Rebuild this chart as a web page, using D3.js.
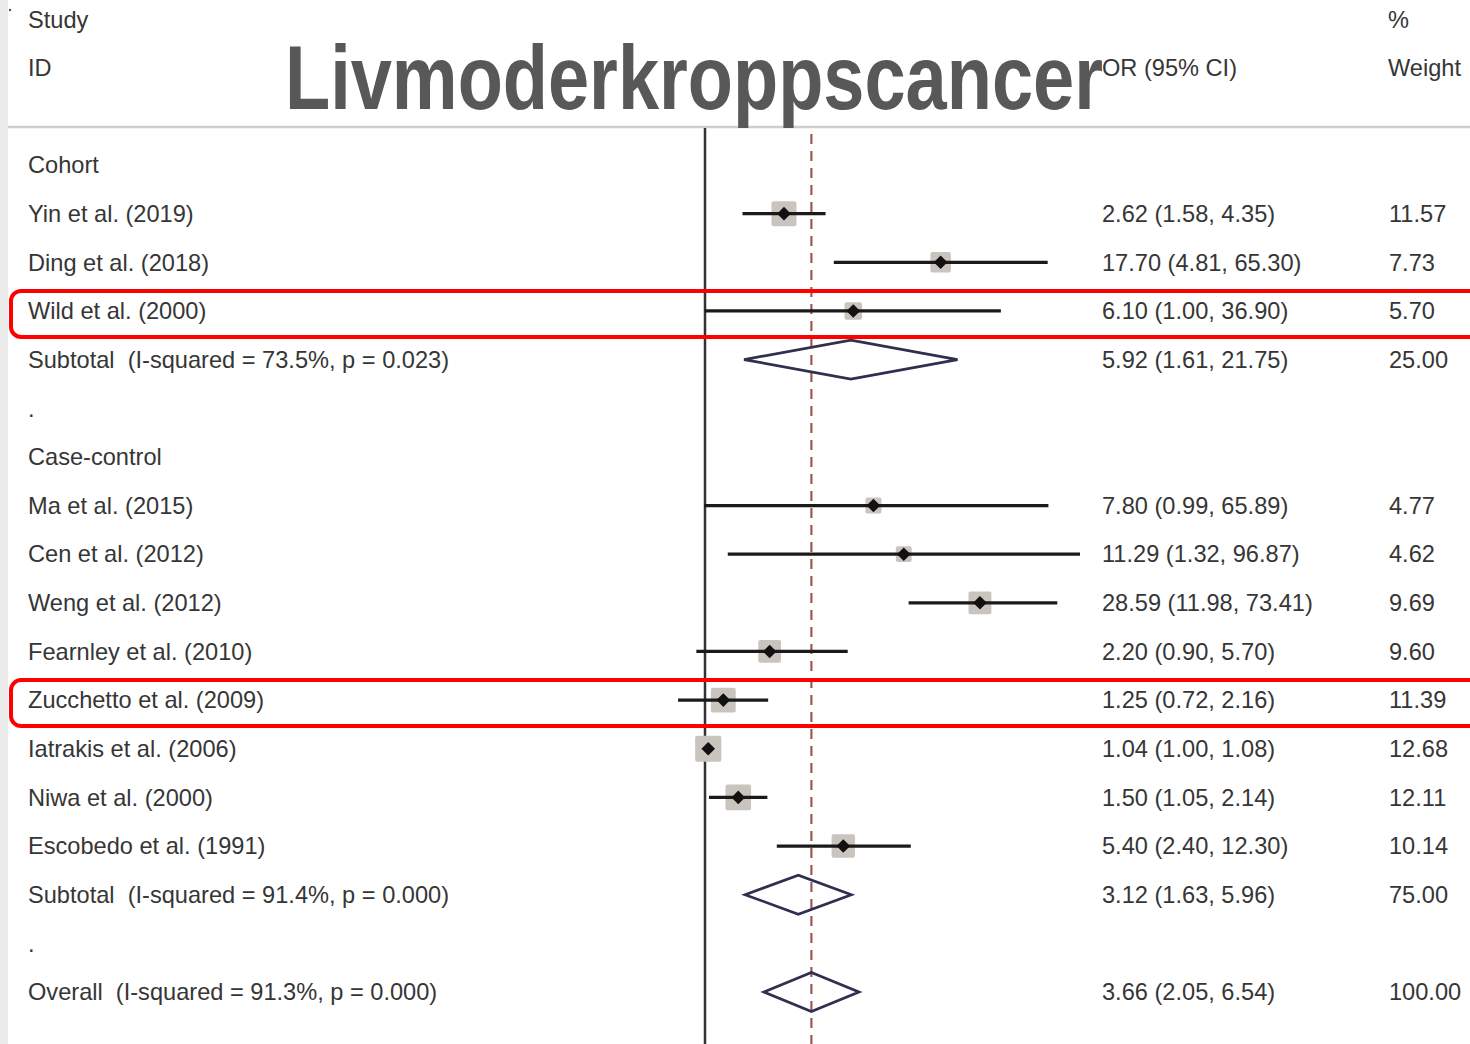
<!DOCTYPE html>
<html>
<head>
<meta charset="utf-8">
<script src="https://cdn.jsdelivr.net/npm/d3@7"></script>
<style>
  html, body { margin: 0; padding: 0; background: #fff; }
  svg { display: block; }
  text { font-family: "Liberation Sans", Arial, sans-serif; white-space: pre; }
</style>
</head>
<body>
<svg id="chart" width="1470" height="1044"></svg>
<script>
// ---- data ----
const rowLabels = [
  "Cohort",
  "Yin et al. (2019)",
  "Ding et al. (2018)",
  "Wild et al. (2000)",
  "Subtotal  (I-squared = 73.5%, p = 0.023)",
  ".",
  "Case-control",
  "Ma et al. (2015)",
  "Cen et al. (2012)",
  "Weng et al. (2012)",
  "Fearnley et al. (2010)",
  "Zucchetto et al. (2009)",
  "Iatrakis et al. (2006)",
  "Niwa et al. (2000)",
  "Escobedo et al. (1991)",
  "Subtotal  (I-squared = 91.4%, p = 0.000)",
  ".",
  "Overall  (I-squared = 91.3%, p = 0.000)"
];
const rowTypes = ["header","study","study","study","subtotal","blank","header",
  "study","study","study","study","study","study","study","study","subtotal","blank","overall"];
const orValues = [null, 2.62, 17.70, 6.10, 5.92, null, null, 7.80, 11.29, 28.59, 2.20, 1.25, 1.04, 1.50, 5.40, 3.12, null, 3.66];
const ciLower  = [null, 1.58, 4.81, 1.00, 1.61, null, null, 0.99, 1.32, 11.98, 0.90, 0.72, 1.00, 1.05, 2.40, 1.63, null, 2.05];
const ciUpper  = [null, 4.35, 65.30, 36.90, 21.75, null, null, 65.89, 96.87, 73.41, 5.70, 2.16, 1.08, 2.14, 12.30, 5.96, null, 6.54];
const weights  = [null, 11.57, 7.73, 5.70, 25.00, null, null, 4.77, 4.62, 9.69, 9.60, 11.39, 12.68, 12.11, 10.14, 75.00, null, 100.00];
const ciLabels = [null, "2.62 (1.58, 4.35)", "17.70 (4.81, 65.30)", "6.10 (1.00, 36.90)", "5.92 (1.61, 21.75)", null, null,
  "7.80 (0.99, 65.89)", "11.29 (1.32, 96.87)", "28.59 (11.98, 73.41)", "2.20 (0.90, 5.70)", "1.25 (0.72, 2.16)",
  "1.04 (1.00, 1.08)", "1.50 (1.05, 2.14)", "5.40 (2.40, 12.30)", "3.12 (1.63, 5.96)", null, "3.66 (2.05, 6.54)"];
const weightLabels = [null, "11.57", "7.73", "5.70", "25.00", null, null, "4.77", "4.62", "9.69", "9.60", "11.39",
  "12.68", "12.11", "10.14", "75.00", null, "100.00"];
const highlightedRows = [3, 11];
const nullValue = 1;
const overallValue = 3.66;
const titleText = "Livmoderkroppscancer";

// ---- layout ----
const svg = d3.select("#chart");
const W = 1470, H = 1044;
const x = d3.scaleLog().domain([1, 100]).range([705, 705 + 82 * Math.log(100)]);
const y = d3.scaleLinear().domain([0, rowLabels.length - 1]).range([165, 992]);
const textColor = "#363636";
const fs = 23.6;
const base = 8.3;

// left gray strip
svg.append("rect").attr("x", 0).attr("y", 0).attr("width", 8).attr("height", H).attr("fill", "#ebebeb");
svg.append("circle").attr("cx", 10).attr("cy", 10).attr("r", 1.2).attr("fill", "#555");

// header line
svg.append("line").attr("x1", 8).attr("x2", W).attr("y1", 127).attr("y2", 127)
  .attr("stroke", "#d2cec8").attr("stroke-width", 2.5);

// header texts
const hdr = [["Study", 28, 20], ["ID", 28, 68], ["OR (95% CI)", 1102, 68], ["%", 1388, 20], ["Weight", 1388, 68]];
svg.selectAll("text.hdr").data(hdr).join("text").attr("class", "hdr")
  .attr("x", d => d[1]).attr("y", d => d[2] + base)
  .attr("font-size", fs).attr("fill", textColor).text(d => d[0]);

// null line
svg.append("line").attr("x1", x(nullValue)).attr("x2", x(nullValue)).attr("y1", 128).attr("y2", H)
  .attr("stroke", "#333").attr("stroke-width", 2.5);
// overall dashed line
svg.append("line").attr("x1", x(overallValue)).attr("x2", x(overallValue)).attr("y1", 134).attr("y2", H)
  .attr("stroke", "#9c5a50").attr("stroke-width", 2.2).attr("stroke-dasharray", "10,7");

const idx = d3.range(rowLabels.length);

// row labels
svg.selectAll("text.lbl").data(idx).join("text").attr("class", "lbl")
  .attr("x", 28).attr("y", i => y(i) + base)
  .attr("font-size", fs).attr("fill", textColor).text(i => rowLabels[i]);

// CI text and weights
svg.selectAll("text.ci").data(idx.filter(i => ciLabels[i])).join("text").attr("class", "ci")
  .attr("x", 1102).attr("y", i => y(i) + base).attr("font-size", fs).attr("fill", textColor).text(i => ciLabels[i]);
svg.selectAll("text.wt").data(idx.filter(i => weightLabels[i])).join("text").attr("class", "wt")
  .attr("x", 1389).attr("y", i => y(i) + base).attr("font-size", fs).attr("fill", textColor).text(i => weightLabels[i]);

// studies
const studies = idx.filter(i => rowTypes[i] === "study");
const sq = i => 7.35 * Math.sqrt(weights[i]);
svg.selectAll("rect.sq").data(studies).join("rect").attr("class", "sq")
  .attr("x", i => x(orValues[i]) - sq(i) / 2).attr("y", i => y(i) - sq(i) / 2)
  .attr("width", sq).attr("height", sq).attr("rx", 2).attr("fill", "#c9c5be");
svg.selectAll("line.ci").data(studies).join("line").attr("class", "ci")
  .attr("x1", i => x(ciLower[i])).attr("x2", i => x(ciUpper[i]))
  .attr("y1", i => y(i)).attr("y2", i => y(i)).attr("stroke", "#1a1a1a").attr("stroke-width", 3.3);
svg.selectAll("path.pt").data(studies).join("path").attr("class", "pt")
  .attr("d", i => { const cx = x(orValues[i]), cy = y(i), r = 6.8; return `M${cx - r},${cy}L${cx},${cy - r}L${cx + r},${cy}L${cx},${cy + r}Z`; })
  .attr("fill", "#111");

// diamonds
const pooled = idx.filter(i => rowTypes[i] === "subtotal" || rowTypes[i] === "overall");
svg.selectAll("path.dm").data(pooled).join("path").attr("class", "dm")
  .attr("d", i => { const cy = y(i), h = 19.5; return `M${x(ciLower[i])},${cy}L${x(orValues[i])},${cy - h}L${x(ciUpper[i])},${cy}L${x(orValues[i])},${cy + h}Z`; })
  .attr("fill", "none").attr("stroke", "#2f2f4f").attr("stroke-width", 2.7);

// title
svg.append("text").attr("x", 285).attr("y", 109).attr("font-size", 90).attr("font-weight", "bold")
  .attr("fill", "#585858").attr("textLength", 818).attr("lengthAdjust", "spacingAndGlyphs").text(titleText);

// highlight boxes
svg.selectAll("rect.hl").data(highlightedRows).join("rect").attr("class", "hl")
  .attr("x", 11).attr("y", i => y(i) - 20).attr("width", 1480).attr("height", 46)
  .attr("rx", 10).attr("fill", "none").attr("stroke", "#ff0000").attr("stroke-width", 4);
</script>
</body>
</html>
